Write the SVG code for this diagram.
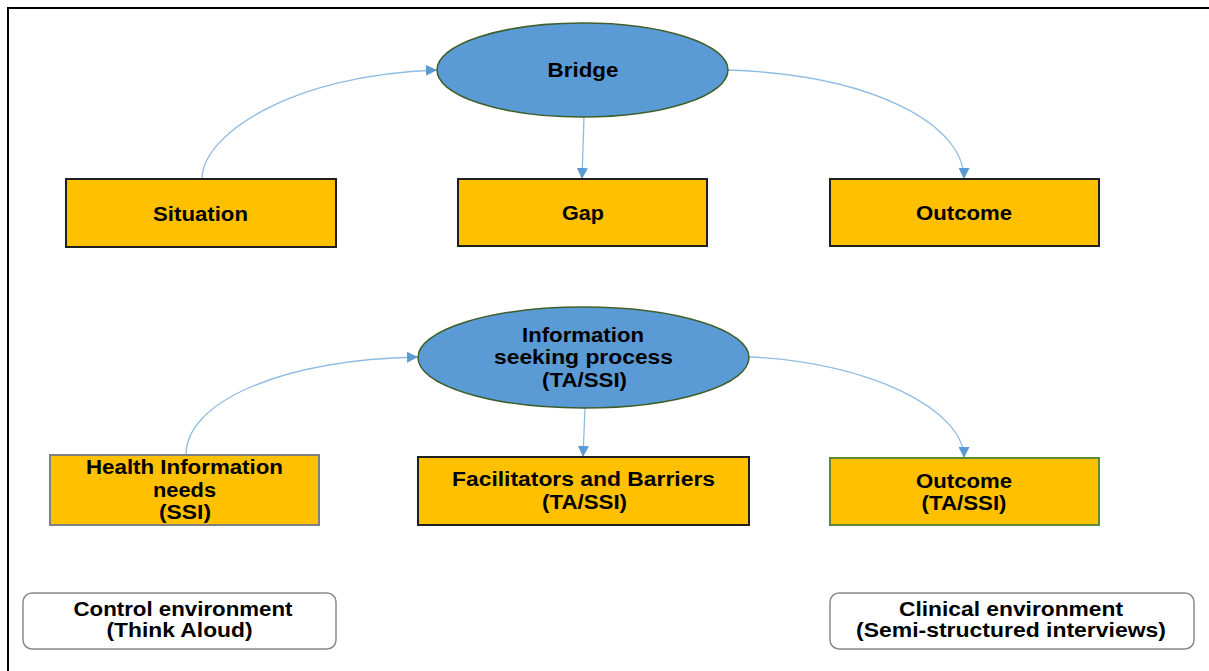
<svg xmlns="http://www.w3.org/2000/svg" width="1209" height="671" viewBox="0 0 1209 671">
<defs>
<style>
.box{fill:#ffc000;stroke:#1f1f1f;stroke-width:2}
.ell{fill:#5b9bd5;stroke:#3e5e2b;stroke-width:1.5}
.env{fill:#ffffff;stroke:#8a8a8a;stroke-width:1.5}
.t{font-family:"Liberation Sans",Arial,sans-serif;font-weight:bold;font-size:19.5px;fill:#000;text-anchor:middle}
.c{fill:none;stroke:#8fbbe3;stroke-width:1.3}
</style>
<marker id="ah" viewBox="0 0 10 10" refX="10" refY="5" markerWidth="11" markerHeight="11" markerUnits="userSpaceOnUse" orient="auto">
<path d="M0,0 L10,5 L0,10 Z" fill="#5b9bd5"/>
</marker>
</defs>
<rect width="1209" height="671" fill="#ffffff"/>
<path d="M8,671 L8,8 L1209,8" fill="none" stroke="#000" stroke-width="2"/>

<g id="connectors">
<path class="c" d="M202,179 C202,135 290,75 437,70" marker-end="url(#ah)"/>
<path class="c" d="M584,117 L582,179" marker-end="url(#ah)"/>
<path class="c" d="M728,70 C875,75 964,125 964,179" marker-end="url(#ah)"/>
<path class="c" d="M186,455 C186,402 280,360 418,357" marker-end="url(#ah)"/>
<path class="c" d="M585,408 L583,457" marker-end="url(#ah)"/>
<path class="c" d="M749,357 C870,362 964,410 964,458" marker-end="url(#ah)"/>
</g>

<g id="bridge">
<ellipse class="ell" cx="582.5" cy="70" rx="145.5" ry="47"/>
<text class="t" x="583" y="77" textLength="71" lengthAdjust="spacingAndGlyphs">Bridge</text>
</g>
<g id="situation">
<rect class="box" x="66" y="179" width="270" height="68"/>
<text class="t" x="200.5" y="221" textLength="95" lengthAdjust="spacingAndGlyphs">Situation</text>
</g>
<g id="gap">
<rect class="box" x="458" y="179" width="249" height="67"/>
<text class="t" x="583" y="220" textLength="42" lengthAdjust="spacingAndGlyphs">Gap</text>
</g>
<g id="outcome">
<rect class="box" x="830" y="179" width="269" height="67"/>
<text class="t" x="964" y="220" textLength="96" lengthAdjust="spacingAndGlyphs">Outcome</text>
</g>

<g id="info-seeking">
<ellipse class="ell" cx="583.5" cy="357.5" rx="165.5" ry="50.5"/>
<text class="t" x="583" y="342" textLength="122" lengthAdjust="spacingAndGlyphs">Information</text>
<text class="t" x="583.5" y="364" textLength="179" lengthAdjust="spacingAndGlyphs">seeking process</text>
<text class="t" x="584.5" y="387" textLength="85" lengthAdjust="spacingAndGlyphs">(TA/SSI)</text>
</g>
<g id="health-needs">
<rect x="50" y="455" width="269" height="70" fill="#ffc000" stroke="#808080" stroke-width="2"/>
<text class="t" x="184.5" y="474" textLength="197" lengthAdjust="spacingAndGlyphs">Health Information</text>
<text class="t" x="184.5" y="497" textLength="63" lengthAdjust="spacingAndGlyphs">needs</text>
<text class="t" x="185" y="519" textLength="52" lengthAdjust="spacingAndGlyphs">(SSI)</text>
</g>
<g id="facilitators">
<rect class="box" x="418" y="457" width="331" height="68"/>
<text class="t" x="583.5" y="486" textLength="263" lengthAdjust="spacingAndGlyphs">Facilitators and Barriers</text>
<text class="t" x="584.5" y="509" textLength="85" lengthAdjust="spacingAndGlyphs">(TA/SSI)</text>
</g>
<g id="outcome-ta">
<rect x="830" y="458" width="269" height="67" fill="#ffc000" stroke="#5e8a37" stroke-width="2"/>
<text class="t" x="964" y="488" textLength="96" lengthAdjust="spacingAndGlyphs">Outcome</text>
<text class="t" x="964" y="510" textLength="85" lengthAdjust="spacingAndGlyphs">(TA/SSI)</text>
</g>

<g id="control-env">
<rect class="env" x="23" y="593" width="313" height="56" rx="9"/>
<text class="t" x="183" y="616" textLength="219" lengthAdjust="spacingAndGlyphs">Control environment</text>
<text class="t" x="179.5" y="637" textLength="146" lengthAdjust="spacingAndGlyphs">(Think Aloud)</text>
</g>
<g id="clinical-env">
<rect class="env" x="830" y="593" width="364" height="56" rx="9"/>
<text class="t" x="1011" y="616" textLength="224" lengthAdjust="spacingAndGlyphs">Clinical environment</text>
<text class="t" x="1011" y="637" textLength="310" lengthAdjust="spacingAndGlyphs">(Semi-structured interviews)</text>
</g>
</svg>
